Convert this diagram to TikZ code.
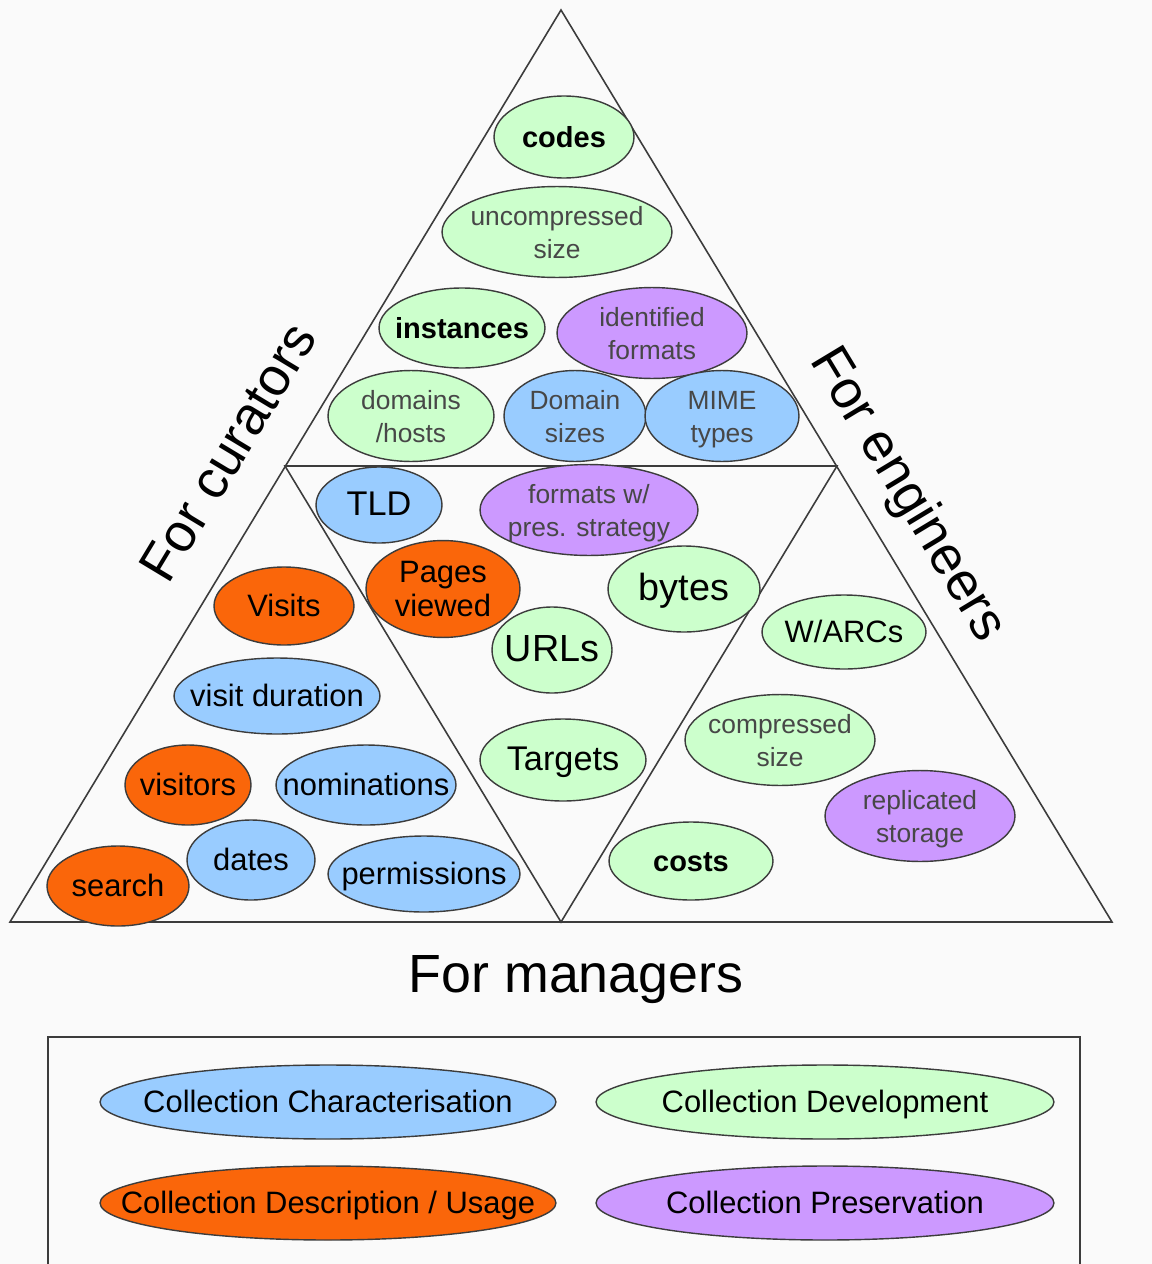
\documentclass[tikz,border=0pt]{standalone}
\usepackage{fontspec}
\setmainfont{Liberation Sans}
\usetikzlibrary{shapes.geometric}
\definecolor{cblue}{RGB}{153,204,255}
\definecolor{cgreen}{RGB}{204,255,204}
\definecolor{corange}{RGB}{250,102,10}
\definecolor{cpurple}{RGB}{204,153,255}
\definecolor{cline}{RGB}{60,60,60}
\definecolor{cback}{RGB}{250,250,250}
% text centred in a box of no width, so that the ellipse keeps its size
\newcommand{\inblob}[1]{\makebox[0pt]{\raisebox{-2pt}[\height][\depth]{\begin{tabular}{@{}c@{}}#1\end{tabular}}}}
\tikzset{
  blob/.style={ellipse, draw=cline, line width=0.8pt, inner sep=0pt, font=\fontsize{17.6}{19.5}\selectfont},
  sz/.style 2 args={minimum width=#1cm, minimum height=#2cm},
  charac/.style={blob, fill=cblue},
  develop/.style={blob, fill=cgreen},
  descr/.style={blob, fill=corange},
  preserv/.style={blob, fill=cpurple},
  thintext/.style={font=\fontsize{15}{18.3}\selectfont, text=black!72},
  midtext/.style={font=\fontsize{19.5}{21}\selectfont},
  bigtext/.style={font=\fontsize{21.5}{23}\selectfont},
  heavy/.style={font=\fontsize{16.5}{19}\selectfont\bfseries},
  audience/.style={font=\fontsize{30.6}{34}\selectfont}
}
\begin{document}
\begin{tikzpicture}[x=0.02cm, y=-0.02cm]
        % background
        \fill[cback] (0,0) rectangle (1152,1264);
        \useasboundingbox (0,0) rectangle (1152,1264);

        % pyramid
        \draw[cline, line width=0.9pt] (561,10) -- (10,922) -- (1112,922) -- cycle;
        \draw[cline, line width=0.9pt] (285,466) -- (837,466) -- (561,922) -- cycle;

        % top part
        \node[develop, heavy, sz={2.80}{1.64}] (codes) at (564,137) {\inblob{codes}};
        \node[develop, thintext, sz={4.60}{1.76}] (uncomp) at (557,232) {\inblob{uncompressed\\size}};
        \node[develop, heavy, sz={3.32}{1.60}] (inst) at (462,328) {\inblob{instances}};
        \node[preserv, thintext, sz={3.80}{1.80}] (idfmt) at (652,333) {\inblob{identified\\formats}};
        \node[develop, thintext, sz={3.32}{1.60}] (domhost) at (411,416) {\inblob{domains\\/hosts}};
        \node[charac, thintext, sz={2.84}{1.60}] (domsize) at (575,416) {\inblob{Domain\\sizes}};
        \node[charac, thintext, sz={3.08}{1.60}] (mime) at (722,416) {\inblob{MIME\\types}};

        % middle part
        \node[charac, midtext, sz={2.52}{1.52}] (tld) at (379,505) {\inblob{TLD}};
        \node[preserv, thintext, sz={4.36}{1.72}] (presfmt) at (589,510) {\inblob{formats w/\\pres. strategy}};
        \node[descr, sz={3.08}{1.76}] (pages) at (443,589) {\inblob{Pages\\viewed}};
        \node[develop, bigtext, sz={3.04}{1.72}] (bytes) at (684,589) {\inblob{bytes}};
        \node[develop, bigtext, sz={2.40}{1.72}] (urls) at (552,650) {\inblob{URLs}};
        \node[develop, midtext, sz={3.32}{1.64}] (targets) at (563,760) {\inblob{Targets}};

        % left part
        \node[descr, sz={2.80}{1.56}] (visits) at (284,606) {\inblob{Visits}};
        \node[charac, sz={4.12}{1.52}] (vdur) at (277,696) {\inblob{visit duration}};
        \node[descr, sz={2.52}{1.60}] (visitors) at (188,785) {\inblob{visitors}};
        \node[charac, sz={3.60}{1.60}] (nomin) at (366,785) {\inblob{nominations}};
        \node[charac, sz={2.56}{1.60}] (dates) at (251,860) {\inblob{dates}};
        \node[descr, sz={2.84}{1.60}] (search) at (118,886) {\inblob{search}};
        \node[charac, sz={3.84}{1.52}] (perms) at (424,874) {\inblob{permissions}};

        % right part
        \node[develop, sz={3.28}{1.48}] (warcs) at (844,632) {\inblob{W/ARCs}};
        \node[develop, thintext, sz={3.80}{1.76}] (compsize) at (780,740) {\inblob{compressed\\size}};
        \node[preserv, thintext, sz={3.80}{1.72}] (repl) at (920,816) {\inblob{replicated\\storage}};
        \node[develop, heavy, sz={3.28}{1.56}] (costs) at (691,861) {\inblob{costs}};

        % audiences
        \node[audience, rotate=58.9] (curators) at (228,452) {For curators};
        \node[audience, rotate=-58.9] (engineers) at (907,495) {For engineers};
        \node[audience] (managers) at (576,980) {For managers};

        % legend
        \draw[cline, line width=0.9pt] (48,1264) -- (48,1037) -- (1080,1037) -- (1080,1264);
        \node[charac, sz={9.12}{1.48}] (legchar) at (328,1102) {\inblob{Collection Characterisation}};
        \node[develop, sz={9.16}{1.48}] (legdev) at (825,1102) {\inblob{Collection Development}};
        \node[descr, sz={9.12}{1.48}] (legdesc) at (328,1203) {\inblob{Collection Description / Usage}};
        \node[preserv, sz={9.16}{1.48}] (legpres) at (825,1203) {\inblob{Collection Preservation}};
\end{tikzpicture}
\end{document}
